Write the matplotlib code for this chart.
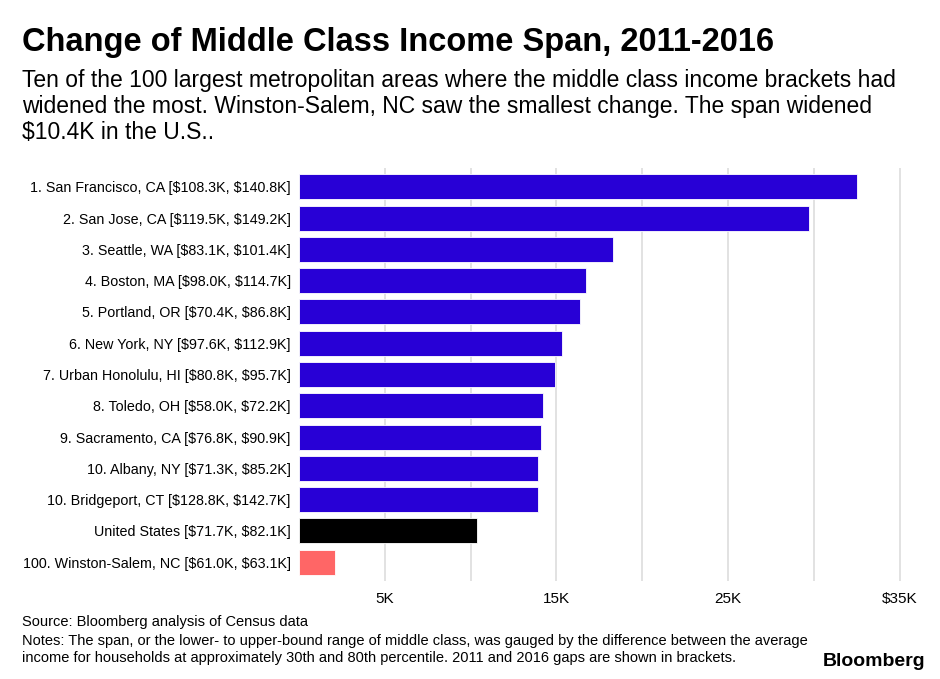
import matplotlib.pyplot as plt
import numpy as np

plt.rcParams["text.parse_math"] = False
plt.rcParams["font.family"] = ["Liberation Sans", "DejaVu Sans"]

# Data
labels = [
    "1. San Francisco, CA [$108.3K, $140.8K]",
    "2. San Jose, CA [$119.5K, $149.2K]",
    "3. Seattle, WA [$83.1K, $101.4K]",
    "4. Boston, MA [$98.0K, $114.7K]",
    "5. Portland, OR [$70.4K, $86.8K]",
    "6. New York, NY [$97.6K, $112.9K]",
    "7. Urban Honolulu, HI [$80.8K, $95.7K]",
    "8. Toledo, OH [$58.0K, $72.2K]",
    "9. Sacramento, CA [$76.8K, $90.9K]",
    "10. Albany, NY [$71.3K, $85.2K]",
    "10. Bridgeport, CT [$128.8K, $142.7K]",
    "United States [$71.7K, $82.1K]",
    "100. Winston-Salem, NC [$61.0K, $63.1K]",
]
gap_2011 = [108.3, 119.5, 83.1, 98.0, 70.4, 97.6, 80.8, 58.0, 76.8, 71.3, 128.8, 71.7, 61.0]
gap_2016 = [140.8, 149.2, 101.4, 114.7, 86.8, 112.9, 95.7, 72.2, 90.9, 85.2, 142.7, 82.1, 63.1]
tick_values = [5, 15, 25, 35]
tick_labels = ["5K", "15K", "25K", "$35K"]

change = np.array(gap_2016) - np.array(gap_2011)
colors = ["#2800d6"] * 11 + ["#000000", "#ff6666"]

fig = plt.figure(figsize=(9.4, 6.79), dpi=100)
ax = fig.add_axes([299 / 940, 1 - 581 / 679, (910 - 299) / 940, (581 - 168) / 679])

y = np.arange(len(labels))
ax.barh(y, change, height=0.8, color=colors, edgecolor="white", linewidth=0.6, zorder=3)
ax.set_ylim(len(labels) - 0.5 + 0.1, -0.6)
ax.set_xlim(0, 35.6)

# gridlines every 5K, labels only on every other one
grid_pos = list(range(5, 40, 5))
ax.set_xticks(grid_pos)
ax.set_xticklabels([tick_labels[tick_values.index(v)] if v in tick_values else ""
                    for v in grid_pos], fontsize=11)
ax.grid(axis="x", color="#dddddd", linewidth=1.2, zorder=0)
ax.tick_params(axis="x", length=0, pad=8)
ax.tick_params(axis="y", length=0, pad=6)
ax.set_yticks(y)
ax.set_yticklabels(labels, fontsize=10.3)
for s in ax.spines.values():
    s.set_visible(False)

fig.text(22 / 940, 1 - 43 / 679, "Change of Middle Class Income Span, 2011-2016",
         fontweight="bold", fontsize=23.5, va="center")
fig.text(22 / 940, 1 - 69 / 679,
         "Ten of the 100 largest metropolitan areas where the middle class income brackets had\n"
         "widened the most. Winston-Salem, NC saw the smallest change. The span widened\n"
         "$10.4K in the U.S..",
         fontsize=16.5, va="top", linespacing=1.18)
fig.text(22 / 940, 1 - 622 / 679, "Source: Bloomberg analysis of Census data",
         fontsize=10.5, va="center")
fig.text(22 / 940, 1 - 634 / 679,
         "Notes: The span, or the lower- to upper-bound range of middle class, was gauged by the difference between the average\n"
         "income for households at approximately 30th and 80th percentile. 2011 and 2016 gaps are shown in brackets.",
         fontsize=10.5, va="top", linespacing=1.3)
fig.text(925 / 940, 1 - 662 / 679, "Bloomberg", fontweight="bold",
         fontsize=14, ha="right", va="center")

fig.savefig("out.png", dpi=100)
